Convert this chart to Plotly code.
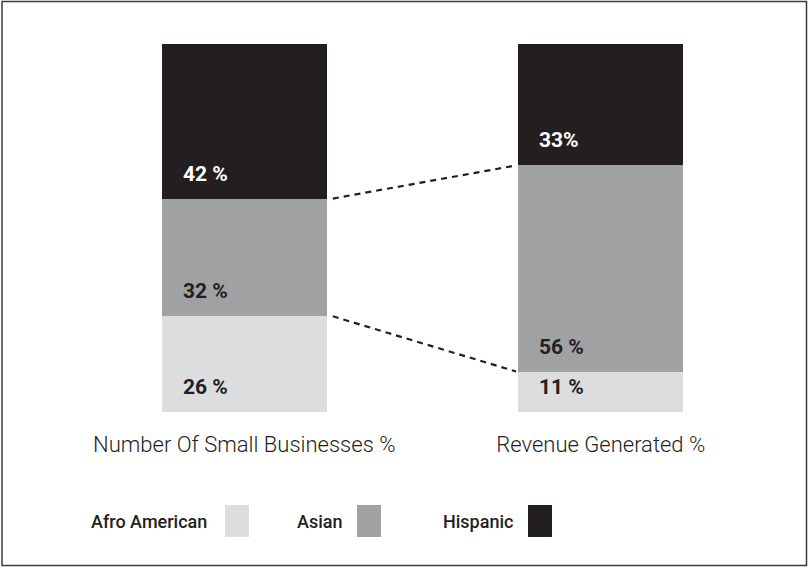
import plotly.graph_objects as go

# Data
categories = ["Number Of Small Businesses %", "Revenue Generated %"]
groups = ["Afro American", "Asian", "Hispanic"]
afro_american = [26, 11]
asian = [32, 56]
hispanic = [42, 33]
value_labels = {
    "Afro American": ["26 %", "11 %"],
    "Asian": ["32 %", "56 %"],
    "Hispanic": ["42 %", "33%"],
}
colors = {"Afro American": "#dcdddf", "Asian": "#a0a1a3", "Hispanic": "#231f20"}
label_colors = {"Afro American": "#231f20", "Asian": "#231f20", "Hispanic": "#ffffff"}

series = {"Afro American": afro_american, "Asian": asian, "Hispanic": hispanic}

W, H = 809, 568
ML, MR, MT, MB = 66, 30, 44, 156
PW, PH = W - ML - MR, H - MT - MB
BAR_W = 0.463
FONT = "Roboto"
INK = "#231f20"

def px_x(px):
    return (px - ML) / PW

def px_y(py):
    return (H - MB - py) / PH

xs = list(range(len(categories)))
fig = go.Figure()

annotations = []
base = [0] * len(categories)
for g in groups:
    vals = series[g]
    fig.add_trace(go.Bar(
        x=xs, y=vals, width=BAR_W, marker=dict(color=colors[g], line=dict(width=0)),
        name=g, showlegend=False, hoverinfo="skip",
    ))
    for i, v in enumerate(vals):
        annotations.append(dict(
            x=xs[i] - BAR_W / 2, y=base[i], xref="x", yref="y",
            text=value_labels[g][i], showarrow=False,
            xanchor="left", yanchor="middle", xshift=19, yshift=25,
            font=dict(family=FONT, size=21, color=label_colors[g], weight="bold"),
        ))
        base[i] += v

# Dashed connectors between segment boundaries
cum1 = [afro_american[i] for i in xs]
cum2 = [afro_american[i] + asian[i] for i in xs]
for cum in (cum2, cum1):
    fig.add_trace(go.Scatter(
        x=[xs[0] + BAR_W / 2 + 0.017, xs[1] - BAR_W / 2 - 0.006], y=cum,
        mode="lines", line=dict(color=INK, width=2.2, dash="6px,5px"),
        showlegend=False, hoverinfo="skip",
    ))

# Legend: label followed by a swatch
shapes = []
legend_items = [("Afro American", 209, 225), ("Asian", 345, 357), ("Hispanic", 515, 528)]
for g, text_right, sw_left in legend_items:
    annotations.append(dict(
        x=px_x(text_right), y=px_y(521), xref="paper", yref="paper",
        text=g, showarrow=False, xanchor="right", yanchor="middle",
        font=dict(family=FONT, size=18, color=INK, weight=500),
    ))
    shapes.append(dict(
        type="rect", xref="paper", yref="paper",
        x0=px_x(sw_left), x1=px_x(sw_left + 24), y0=px_y(537), y1=px_y(505),
        fillcolor=colors[g], line=dict(width=0),
    ))

# Outer frame
shapes.append(dict(
    type="rect", xref="paper", yref="paper",
    x0=px_x(2), x1=px_x(806.5), y0=px_y(565.5), y1=px_y(1.5),
    line=dict(color="#3a3a3a", width=1.5), fillcolor="rgba(0,0,0,0)", layer="below",
))

fig.update_layout(
    width=W, height=H,
    margin=dict(l=ML, r=MR, t=MT, b=MB),
    paper_bgcolor="white", plot_bgcolor="white",
    barmode="stack", bargap=0,
    showlegend=False,
    xaxis=dict(
        range=[-0.5, 1.5], tickvals=xs, ticktext=categories,
        showgrid=False, zeroline=False, showline=False, ticks="",
        ticklabelstandoff=17,
        tickfont=dict(family=FONT, size=22, color=INK, weight=300),
        fixedrange=True,
    ),
    yaxis=dict(range=[0, 100], visible=False, fixedrange=True),
    annotations=annotations,
    shapes=shapes,
)

fig.write_html("out.html")
